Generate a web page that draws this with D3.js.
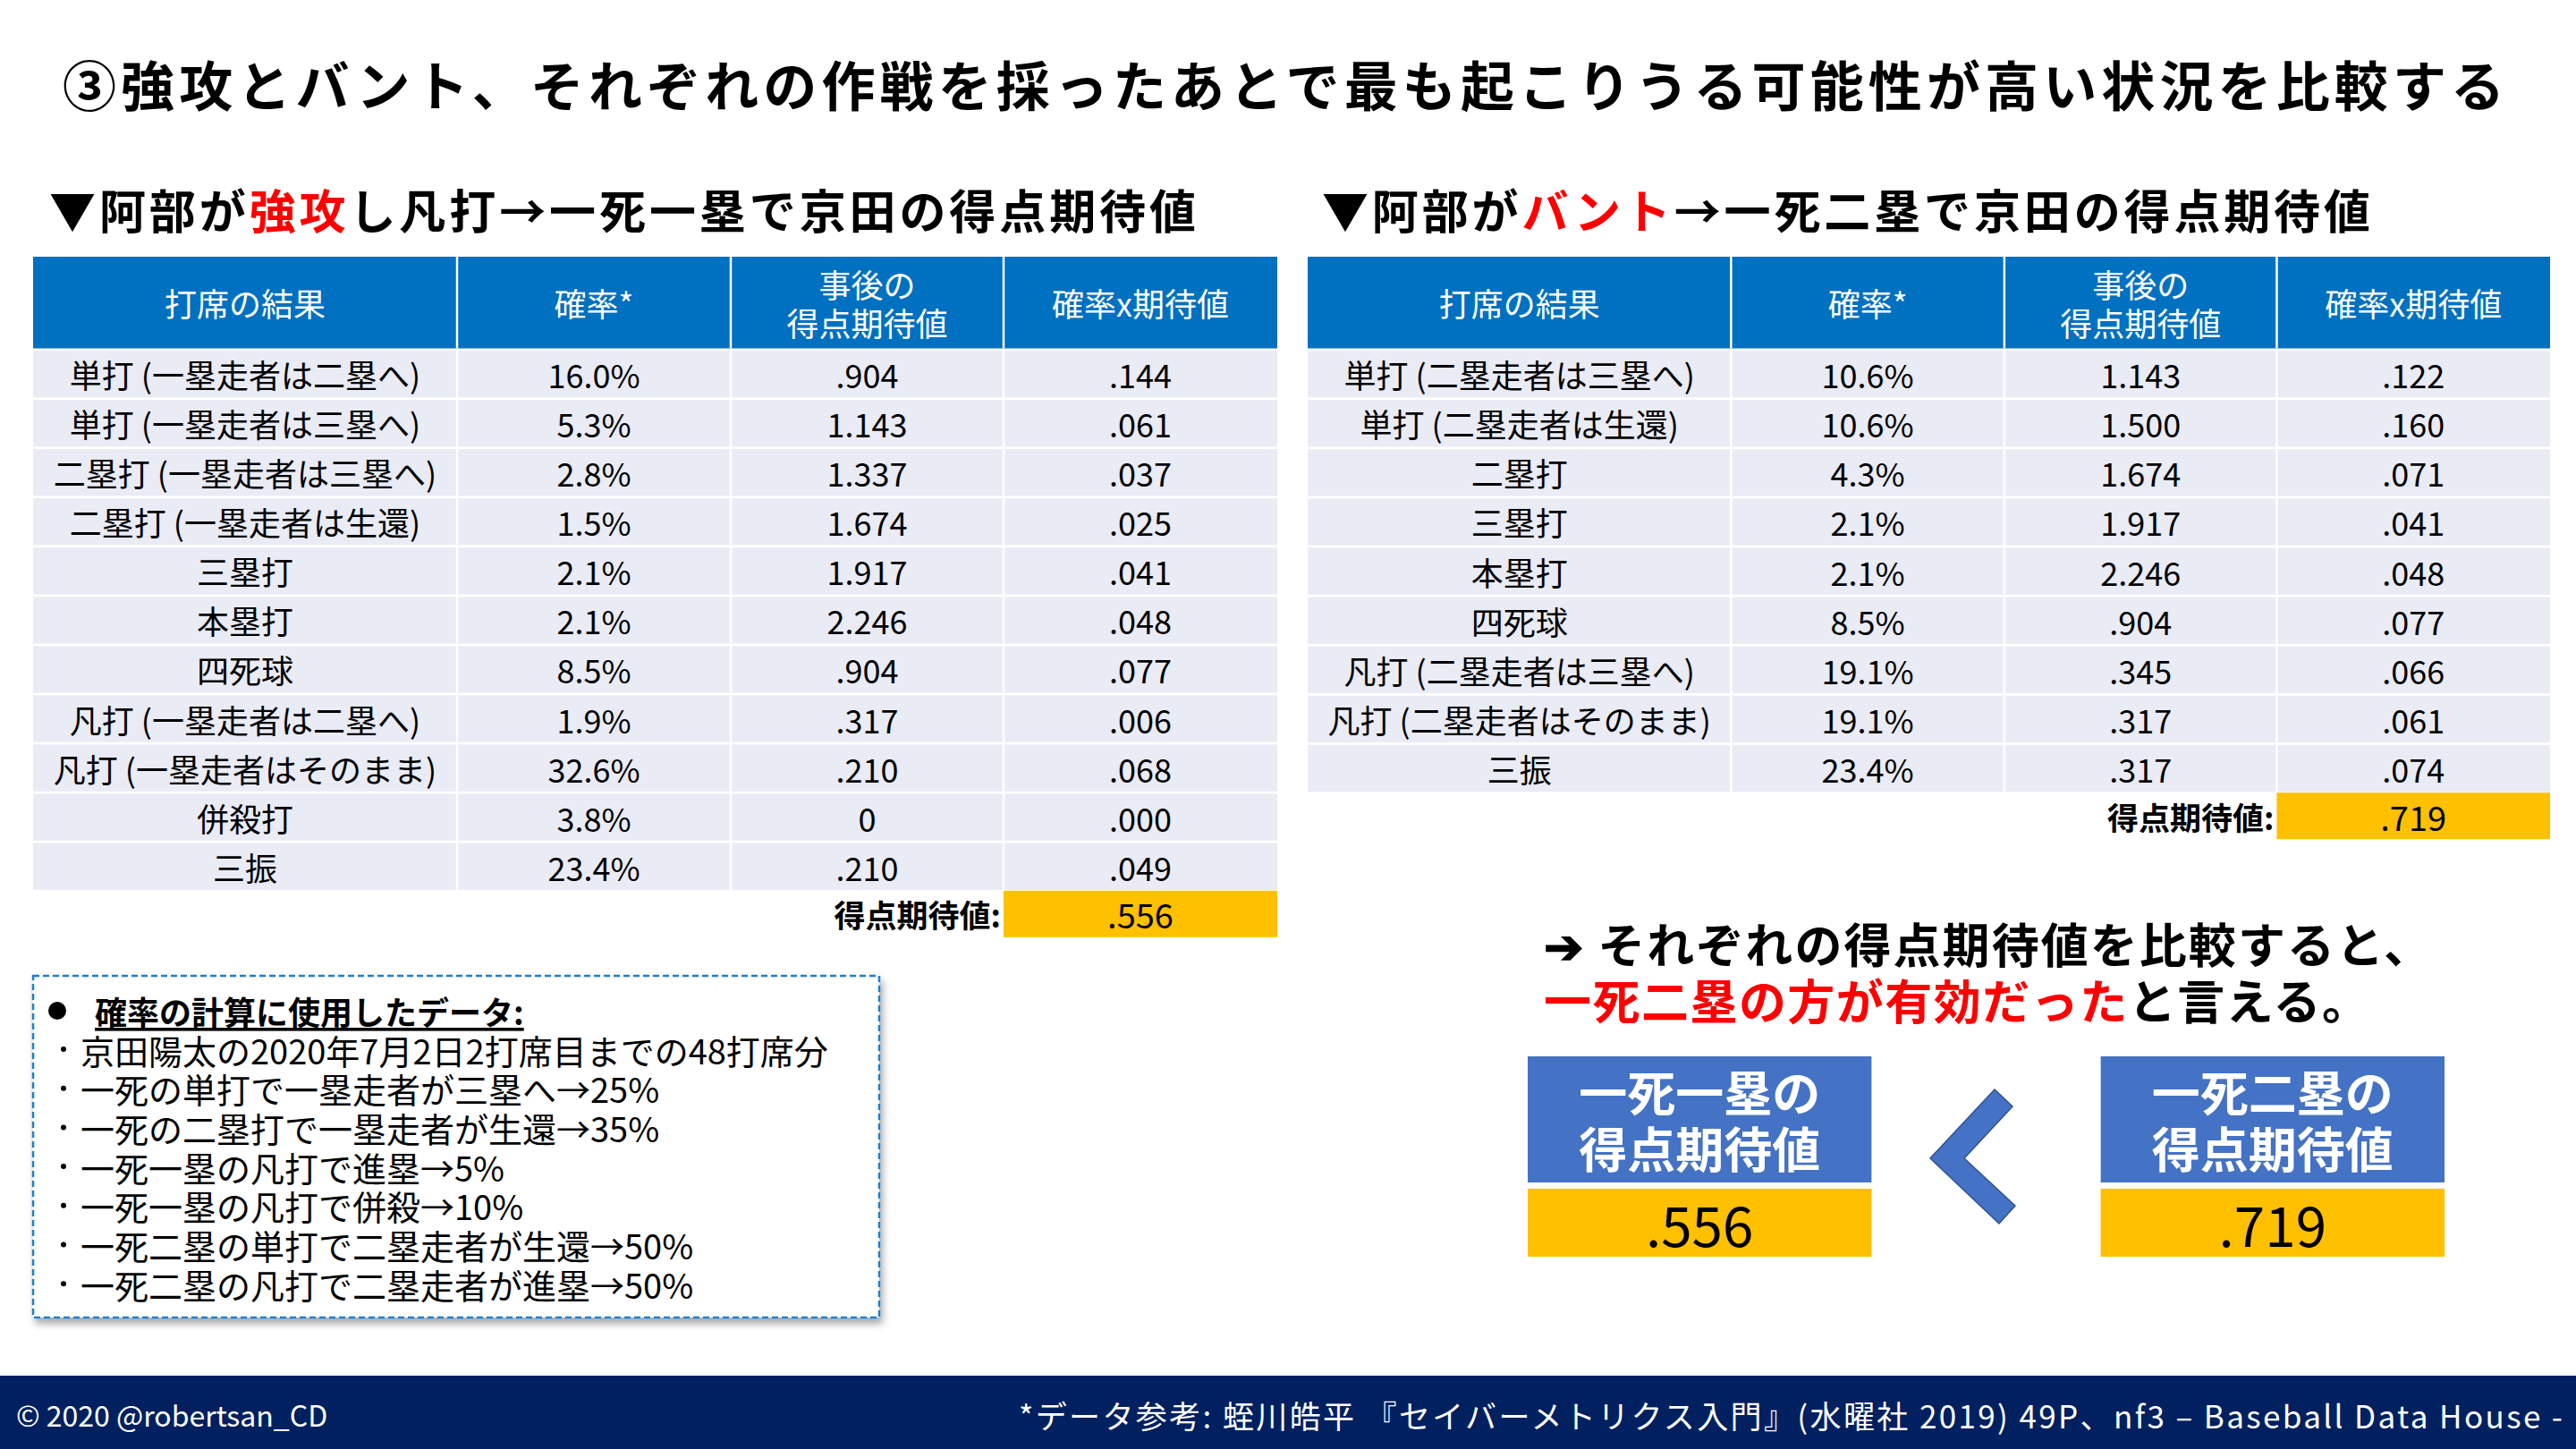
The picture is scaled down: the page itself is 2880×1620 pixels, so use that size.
<!DOCTYPE html>
<html>
<head>
<meta charset="utf-8">
<script src="https://cdn.jsdelivr.net/npm/d3@7"></script>
<style>
html,body{margin:0;padding:0;background:#fff;}
svg{display:block;}
text{font-family:"Noto Sans CJK JP","Noto Sans",sans-serif;}
</style>
</head>
<body>
<svg id="chart" width="2880" height="1620"></svg>
<script>
// ---------- data ----------
const title = "③強攻とバント、それぞれの作戦を採ったあとで最も起こりうる可能性が高い状況を比較する";
const headers = ["打席の結果", "確率*", "事後の\n得点期待値", "確率x期待値"];

const leftResults = ["単打 (一塁走者は二塁へ)","単打 (一塁走者は三塁へ)","二塁打 (一塁走者は三塁へ)","二塁打 (一塁走者は生還)","三塁打","本塁打","四死球","凡打 (一塁走者は二塁へ)","凡打 (一塁走者はそのまま)","併殺打","三振"];
const leftProb = ["16.0%","5.3%","2.8%","1.5%","2.1%","2.1%","8.5%","1.9%","32.6%","3.8%","23.4%"];
const leftRE = [".904","1.143","1.337","1.674","1.917","2.246",".904",".317",".210","0",".210"];
const leftProd = [".144",".061",".037",".025",".041",".048",".077",".006",".068",".000",".049"];
const leftTotal = ".556";

const rightResults = ["単打 (二塁走者は三塁へ)","単打 (二塁走者は生還)","二塁打","三塁打","本塁打","四死球","凡打 (二塁走者は三塁へ)","凡打 (二塁走者はそのまま)","三振"];
const rightProb = ["10.6%","10.6%","4.3%","2.1%","2.1%","8.5%","19.1%","19.1%","23.4%"];
const rightRE = ["1.143","1.500","1.674","1.917","2.246",".904",".345",".317",".317"];
const rightProd = [".122",".160",".071",".041",".048",".077",".066",".061",".074"];
const rightTotal = ".719";

const totalLabel = "得点期待値:";
const noteHeading = "確率の計算に使用したデータ:";
const notes = ["京田陽太の2020年7月2日2打席目までの48打席分","一死の単打で一塁走者が三塁へ→25%","一死の二塁打で一塁走者が生還→35%","一死一塁の凡打で進塁→5%","一死一塁の凡打で併殺→10%","一死二塁の単打で二塁走者が生還→50%","一死二塁の凡打で二塁走者が進塁→50%"];

const conclusion1 = "それぞれの得点期待値を比較すると、";
const conclusionRed = "一死二塁の方が有効だった";
const conclusionBlack = "と言える。";
const boxLabels = [["一死一塁の","得点期待値"],["一死二塁の","得点期待値"]];
const boxValues = [leftTotal, rightTotal];

const footerLeft = "© 2020 @robertsan_CD";
const footerRight = "*データ参考: 蛭川皓平 『セイバーメトリクス入門』(水曜社 2019) 49P、nf3 – Baseball Data House -";

// ---------- drawing ----------
const svg = d3.select("#chart");
const defs = svg.append("defs");
const f = defs.append("filter").attr("id","shadow").attr("x","-5%").attr("y","-5%").attr("width","115%").attr("height","120%");
f.append("feDropShadow").attr("dx",3).attr("dy",6).attr("stdDeviation",4).attr("flood-color","#000").attr("flood-opacity",0.35);

const BLUE_HEAD = "#0070C0", CELL = "#E9EBF5", YELLOW = "#FFC000", BOX = "#4472C4";

// title
svg.append("text").attr("x",70).attr("y",92).attr("dominant-baseline","central")
  .attr("font-size",60).attr("font-weight",700).attr("textLength",2730).attr("lengthAdjust","spacing")
  .text(title);

// subtitles
function subtitle(x, parts, len){
  const t = svg.append("text").attr("x",x).attr("y",233).attr("dominant-baseline","central")
    .attr("font-size",52).attr("font-weight",700).attr("textLength",len).attr("lengthAdjust","spacing");
  parts.forEach(p => t.append("tspan").attr("fill",p[1]).text(p[0]));
}
subtitle(55, [["▼阿部が","#000"],["強攻","#FF0000"],["し凡打→一死一塁で京田の得点期待値","#000"]], 1282);
subtitle(1478, [["▼阿部が","#000"],["バント","#FF0000"],["→一死二塁で京田の得点期待値","#000"]], 1172);

function drawTable(x0, x1, results, prob, re, prod, total){
  const g = svg.append("g");
  const colFrac = [0, 474, 780, 1085, 1391];
  const xs = d3.scaleLinear().domain([0,1391]).range([x0,x1]);
  const edges = colFrac.map(v => xs(v));
  const n = results.length;
  const rowStep = 54.8;
  const y = d3.scaleBand().domain(d3.range(n)).range([392, 392 + n*rowStep]).paddingInner(0.05).paddingOuter(0);
  const headTop = 287, headBot = 389.5;
  // header
  for (let c=0;c<4;c++){
    g.append("rect").attr("x",edges[c]).attr("y",headTop).attr("width",edges[c+1]-edges[c]).attr("height",headBot-headTop).attr("fill",BLUE_HEAD);
  }
  for (let c=1;c<4;c++){
    g.append("line").attr("x1",edges[c]).attr("x2",edges[c]).attr("y1",headTop).attr("y2",headBot).attr("stroke","#fff").attr("stroke-width",2.5);
  }
  headers.forEach((h,c)=>{
    const cx = (edges[c]+edges[c+1])/2;
    const lines = h.split("\n");
    const cy = (headTop+headBot)/2;
    lines.forEach((ln,i)=>{
      g.append("text").attr("x",cx).attr("y", cy + (i-(lines.length-1)/2)*43).attr("text-anchor","middle")
        .attr("dominant-baseline","central").attr("font-size",36).attr("fill","#fff").text(ln);
    });
  });
  // body
  const cols = [results, prob, re, prod];
  d3.range(n).forEach(r=>{
    for (let c=0;c<4;c++){
      g.append("rect").attr("x",edges[c]).attr("y",y(r)).attr("width",edges[c+1]-edges[c]).attr("height",y.bandwidth()).attr("fill",CELL);
      g.append("text").attr("x",(edges[c]+edges[c+1])/2).attr("y",y(r)+y.bandwidth()/2).attr("text-anchor","middle")
        .attr("dominant-baseline","central").attr("font-size",36).attr("fill","#000").text(cols[c][r]);
    }
    for (let c=1;c<4;c++){
      g.append("line").attr("x1",edges[c]).attr("x2",edges[c]).attr("y1",y(r)).attr("y2",y(r)+y.bandwidth()).attr("stroke","#fff").attr("stroke-width",2.5);
    }
  });
  // total
  const ty = 392 + n*rowStep + 1;
  const th = 52;
  g.append("rect").attr("x",edges[3]).attr("y",ty).attr("width",edges[4]-edges[3]).attr("height",th).attr("fill",YELLOW);
  g.append("text").attr("x",(edges[3]+edges[4])/2).attr("y",ty+th/2).attr("text-anchor","middle").attr("dominant-baseline","central")
    .attr("font-size",38).attr("fill","#000").text(total);
  g.append("text").attr("x",edges[3]-3).attr("y",ty+th/2).attr("text-anchor","end").attr("dominant-baseline","central")
    .attr("font-size",35).attr("font-weight",700).attr("fill","#000").text(totalLabel);
}
drawTable(37, 1428, leftResults, leftProb, leftRE, leftProd, leftTotal);
drawTable(1462, 2851, rightResults, rightProb, rightRE, rightProd, rightTotal);

// notes box
const nb = svg.append("g");
nb.append("rect").attr("x",37).attr("y",1091).attr("width",946).attr("height",382).attr("fill","#fff")
  .attr("stroke","#1F7FCF").attr("stroke-width",2.5).attr("stroke-dasharray","7,4").attr("filter","url(#shadow)");
nb.append("circle").attr("cx",64).attr("cy",1130).attr("r",10).attr("fill","#000");
nb.append("text").attr("x",106).attr("y",1130).attr("dominant-baseline","central").attr("font-size",36)
  .attr("font-weight",700).attr("text-decoration","underline").text(noteHeading);
notes.forEach((t,i)=>{
  const yy = 1173 + i*43.7;
  nb.append("circle").attr("cx",71).attr("cy",yy).attr("r",3).attr("fill","#000");
  nb.append("text").attr("x",90).attr("y",yy).attr("dominant-baseline","central").attr("font-size",38).text(t);
});

// conclusion
const c1 = svg.append("text").attr("x",1726).attr("y",1054).attr("dominant-baseline","central").attr("font-size",53).attr("font-weight",700)
  .attr("textLength",992).attr("lengthAdjust","spacing");
c1.append("tspan").text("➔ ");
c1.append("tspan").text(conclusion1);
const c2 = svg.append("text").attr("x",1726).attr("y",1117).attr("dominant-baseline","central").attr("font-size",53).attr("font-weight",700)
  .attr("textLength",923).attr("lengthAdjust","spacing");
c2.append("tspan").attr("fill","#FF0000").text(conclusionRed);
c2.append("tspan").attr("fill","#000").text(conclusionBlack);

// comparison boxes
const bx = d3.scaleBand().domain([0,1]).range([1708, 2733]).paddingInner(0.4).paddingOuter(0);
[0,1].forEach(i=>{
  const x = bx(i), w = bx.bandwidth();
  svg.append("rect").attr("x",x).attr("y",1181).attr("width",w).attr("height",141).attr("fill",BOX);
  boxLabels[i].forEach((l,j)=>{
    svg.append("text").attr("x",x+w/2).attr("y",1219 + j*63).attr("text-anchor","middle").attr("dominant-baseline","central")
      .attr("font-size",54).attr("font-weight",700).attr("fill","#fff").text(l);
  });
  svg.append("rect").attr("x",x).attr("y",1329).attr("width",w).attr("height",76).attr("fill",YELLOW);
  svg.append("text").attr("x",x+w/2).attr("y",1367).attr("text-anchor","middle").attr("dominant-baseline","central")
    .attr("font-size",62).attr("fill","#000").text(boxValues[i]);
});
// chevron "<"
const chev = [[2230,1218],[2250,1237],[2196,1295],[2253,1348],[2235,1368],[2158,1295]];
svg.append("path").attr("d", d3.line()(chev)+"Z").attr("fill",BOX).attr("stroke","#2F528F").attr("stroke-width",1.5);

// footer
svg.append("rect").attr("x",0).attr("y",1538).attr("width",2880).attr("height",82).attr("fill","#002060");
svg.append("text").attr("x",18).attr("y",1581).attr("dominant-baseline","central").attr("font-size",32).attr("fill","#fff").text(footerLeft);
svg.append("text").attr("x",1139).attr("y",1581).attr("dominant-baseline","central").attr("font-size",35).attr("fill","#fff")
  .attr("textLength",1726).attr("lengthAdjust","spacing").text(footerRight);
</script>
</body>
</html>
